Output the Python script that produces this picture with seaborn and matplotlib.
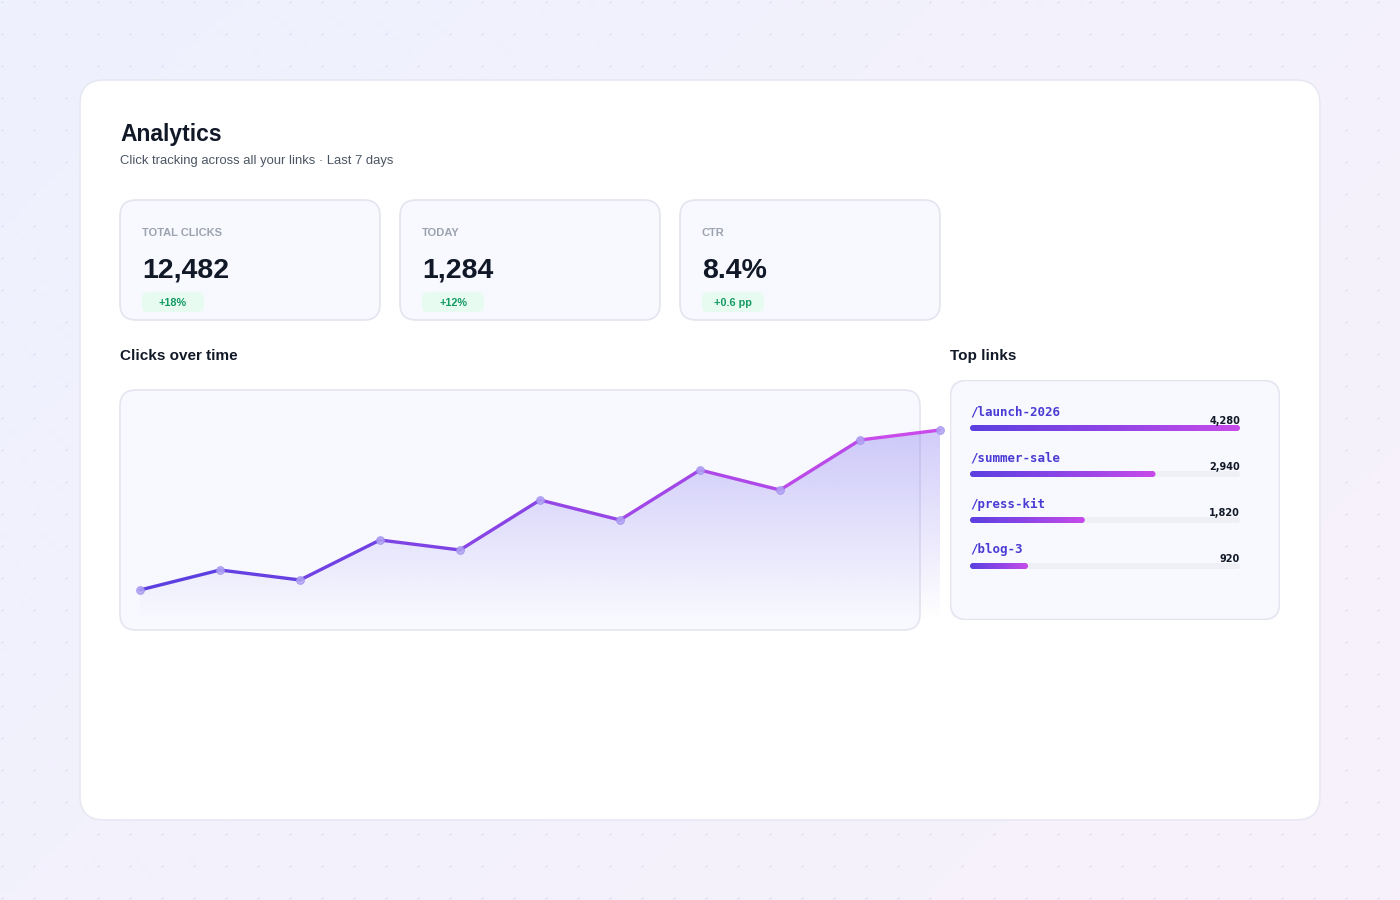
import numpy as np
import matplotlib
matplotlib.use("Agg")
import matplotlib.pyplot as plt
from matplotlib.patches import FancyBboxPatch
from matplotlib.collections import LineCollection
from matplotlib.colors import LinearSegmentedColormap, to_rgb
import seaborn as sns

# ---------------- data ----------------
title = "Analytics"
subtitle = "Click tracking across all your links · Last 7 days"
kpi_labels = ["TOTAL CLICKS", "TODAY", "CTR"]
kpi_values = ["12,482", "1,284", "8.4%"]
kpi_deltas = ["+18%", "+12%", "+0.6 pp"]

points = list(range(11))
clicks = [300, 500, 400, 800, 700, 1200, 1000, 1500, 1300, 1800, 1900]

links = ["/launch-2026", "/summer-sale", "/press-kit", "/blog-3"]
link_clicks = [4280, 2940, 1820, 920]

# ---------------- style ----------------
sns.set_theme(style="white")
plt.rcParams["font.family"] = ["Liberation Sans", "DejaVu Sans"]

W, H = 1400, 900
fig = plt.figure(figsize=(14, 9), dpi=100)

INDIGO = "#5b3fe0"
MAGENTA = "#c84bea"
grad_cmap = LinearSegmentedColormap.from_list("g", [INDIGO, "#8e45e6", MAGENTA])

def px_axes(x0, y0, x1, y1, z=1):
    ax = fig.add_axes([x0 / W, 1 - y1 / H, (x1 - x0) / W, (y1 - y0) / H])
    ax.set_zorder(z)
    ax.patch.set_alpha(0)
    return ax

# background axes in pixel coordinates
bg = fig.add_axes([0, 0, 1, 1])
bg.set_xlim(0, W)
bg.set_ylim(H, 0)
bg.axis("off")

c1 = np.array(to_rgb("#eef1fe"))
c2 = np.array(to_rgb("#f8f1fb"))
gx, gy = np.meshgrid(np.linspace(0, 1, 200), np.linspace(0, 1, 130))
t = (gx * 0.6 + gy * 0.4)[..., None]
bg.imshow(c1 * (1 - t) + c2 * t, extent=[0, W, H, 0], aspect="auto", zorder=0)
dx, dy = np.meshgrid(np.arange(2, W, 32), np.arange(2, H, 32))
bg.scatter(dx.ravel(), dy.ravel(), s=2.2, color="#dcdcf3", linewidths=0, zorder=1)
bg.set_xlim(0, W)
bg.set_ylim(H, 0)

def rrect(ax, x, y, w, h, r, fc, ec, lw=1.0, z=2):
    p = FancyBboxPatch((x, y), w, h, boxstyle=f"round,pad=0,rounding_size={r}",
                       fc=fc, ec=ec, lw=lw, zorder=z)
    ax.add_patch(p)
    return p

# main card
rrect(bg, 80, 80, 1240, 740, 24, "white", "#e8e8f3", 1.2)

bg.text(120, 134.5, title, fontsize=16.5, fontweight="bold", color="#111827",
        va="center", ha="left", zorder=5)
bg.text(120, 161, subtitle, fontsize=9.4, color="#4b5563",
        va="center", ha="left", zorder=5)

# KPI cards
for i, (lab, val, dlt) in enumerate(zip(kpi_labels, kpi_values, kpi_deltas)):
    x0 = 120 + i * 280
    rrect(bg, x0, 200, 260, 120, 16, "#f8f9fe", "#e3e5ee", 1.2, z=3)
    bg.text(x0 + 22, 233, lab, fontsize=8, fontweight="bold", color="#9ca3af",
            va="center", ha="left", zorder=5)
    bg.text(x0 + 22, 270.5, val, fontsize=20.5, fontweight="bold", color="#111827",
            va="center", ha="left", zorder=5)
    rrect(bg, x0 + 22, 292, 62, 20, 6, "#e8fbf1", "none", 0, z=4)
    bg.text(x0 + 53, 303, dlt, fontsize=7.8, fontweight="bold", color="#139a62",
            va="center", ha="center", zorder=5)

bg.text(120, 356, "Clicks over time", fontsize=11, fontweight="bold", color="#111827",
        va="center", ha="left", zorder=5)
bg.text(950, 356, "Top links", fontsize=11, fontweight="bold", color="#111827",
        va="center", ha="left", zorder=5)

# chart card
rrect(bg, 120, 390, 800, 240, 16, "#f8f9fe", "#e4e5ef", 1.2, z=3)

# ---------------- line chart ----------------
ax = px_axes(120, 390, 950, 620, z=2)
ax.set_xlim(-0.25, 10.125)
ax.set_ylim(0, 2300)
ax.axis("off")

poly = ax.fill_between(points, clicks, 0, color="none", lw=0)
alpha_col = np.linspace(0.0, 0.42, 256)[:, None]
base = np.array(to_rgb("#7c6cf0"))
img = np.zeros((256, 1, 4))
img[..., :3] = base
img[..., 3] = alpha_col
im = ax.imshow(img, extent=[points[0], points[-1], 0, 2300], origin="lower",
               aspect="auto", zorder=1)
im.set_clip_path(poly.get_paths()[0], transform=ax.transData)

segs = [[(points[i], clicks[i]), (points[i + 1], clicks[i + 1])] for i in range(len(points) - 1)]
seg_colors = [grad_cmap(i / (len(segs) - 1)) for i in range(len(segs))]
lc = LineCollection(segs, colors=seg_colors, linewidths=2.4, capstyle="round",
                    joinstyle="round", zorder=3)
ax.add_collection(lc)
sns.scatterplot(x=points, y=clicks, ax=ax, s=30, color="#b3a6f3", alpha=0.85,
                edgecolor="#a08ff0", linewidth=0.8, zorder=4, legend=False)
ax.set_xlim(-0.25, 10.125)
ax.set_ylim(0, 2300)
ax.axis("off")

# top links card (above the line chart axes)
cardax = px_axes(950, 380, 1280, 620, z=3)
cardax.set_xlim(0, 330)
cardax.set_ylim(240, 0)
cardax.axis("off")
rrect(cardax, 0.5, 0.5, 329, 239, 16, "#f8f9fe", "#e4e5ef", 1.2, z=1)
cardax.set_xlim(0, 330)
cardax.set_ylim(240, 0)

# ---------------- bars ----------------
bx = px_axes(950, 380, 1280, 620, z=4)
vmax = max(link_clicks)
upx = vmax / 270.0                     # value units per pixel
xl = (-20 * upx, vmax + 40 * upx)
yl = ((620 - 428) / 46.0, (380 - 428) / 46.0)
bar_h = 6 / 46.0

sns.barplot(x=link_clicks, y=links, orient="h", width=bar_h, ax=bx,
            color="white", alpha=0.0, edgecolor="none")
r_x = 3 * upx
m_asp = (3 / 46.0) / r_x

for i, patch in enumerate(list(bx.patches)):
    w = patch.get_width()
    yc = patch.get_y() + patch.get_height() / 2
    y0 = yc - bar_h / 2
    track = FancyBboxPatch((0, y0), vmax, bar_h,
                           boxstyle=f"round,pad=0,rounding_size={r_x}",
                           mutation_aspect=m_asp, fc="#eef0f5", ec="none", zorder=1)
    bx.add_patch(track)
    clip = FancyBboxPatch((0, y0), w, bar_h,
                          boxstyle=f"round,pad=0,rounding_size={r_x}",
                          mutation_aspect=m_asp, fc="none", ec="none", zorder=2)
    bx.add_patch(clip)
    gim = bx.imshow(np.linspace(0, 1, 256)[None, :], cmap=grad_cmap,
                    extent=[0, w, y0 + bar_h, y0], aspect="auto", zorder=2)
    gim.set_clip_path(clip)
    bx.text(0, yc - 16 / 46.0, links[i], fontsize=9, fontweight="bold",
            family="DejaVu Sans Mono", color="#4a3bd4", va="center", ha="left", zorder=5)
    bx.text(vmax, yc - 7 / 46.0, f"{link_clicks[i]:,}", fontsize=7.0, fontweight="bold",
            family=["DejaVu Sans"], color="#111827", va="center", ha="right", zorder=5)

bx.set_xlim(*xl)
bx.set_ylim(*yl)
bx.axis("off")

fig.savefig("out.png", dpi=100)
